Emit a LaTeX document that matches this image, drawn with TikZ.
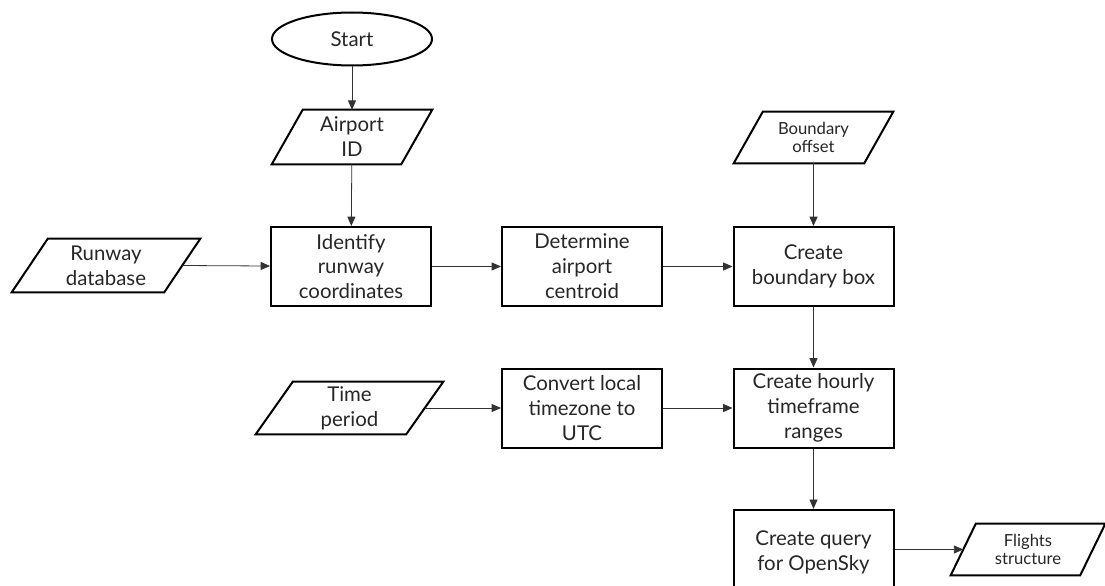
\documentclass[tikz,border=0pt]{standalone}
\usepackage{fontspec}
\setmainfont{Lato}
\usetikzlibrary{shapes.geometric,arrows.meta}
\definecolor{txt}{HTML}{262626}
\newcommand\iopath[2]{%
  \draw[boxline] ([xshift=-#2]#1.south west) -- ([xshift=-#2]#1.south east) --
    ([xshift=#2]#1.north east) -- ([xshift=#2]#1.north west) -- cycle;}
\tikzset{
  boxline/.style={line width=1.5pt, line join=miter},
  big/.style={font=\fontsize{15.3}{18.7}\selectfont, text=txt, align=center},
  small/.style={font=\fontsize{12.5}{14}\selectfont, text=txt, align=center},
  proc/.style={big, draw, boxline, rectangle, minimum width=120pt, minimum height=59.25pt, inner sep=0pt},
  term/.style={big, draw, boxline, ellipse, minimum width=120pt, minimum height=39.75pt, inner sep=0pt},
  iotext/.style={rectangle, inner sep=0pt},
  flow/.style={line width=0.6pt, draw=black!80, -{Triangle[length=7pt,width=6pt]}},
}
\begin{document}
\begin{tikzpicture}[x=0.75pt, y=-0.75pt]
\useasboundingbox[fill=white] (0,0) rectangle (1105,585);
% terminal
\node[term] (start) at (352,39) {Start};
% inputs
\node[iotext, big, minimum width=96.75pt, minimum height=40.5pt] (airport) at (352,137) {Airport\\ID};
\iopath{airport}{11.6pt}
\node[iotext, big, minimum width=114pt, minimum height=39.75pt] (runway) at (106,265.5) {Runway\\database};
\iopath{runway}{13.5pt}
\node[iotext, small, minimum width=97.5pt, minimum height=38.25pt] (offset) at (813.5,137.5) {Boundary\\offset};
\iopath{offset}{10.9pt}
\node[iotext, big, minimum width=112.5pt, minimum height=39pt] (time) at (349.5,408) {Time\\period};
\iopath{time}{13.9pt}
\node[iotext, small, minimum width=96.75pt, minimum height=38.25pt] (flights) at (1028,549.5) {Flights\\structure};
\iopath{flights}{9.4pt}
% processes
\node[proc] (identify) at (351,266.5) {Identify\\runway\\coordinates};
\node[proc] (centroid) at (582,266.5) {Determine\\airport\\centroid};
\node[proc] (bbox) at (813.5,266.5) {Create\\boundary box};
\node[proc] (convert) at (582,408) {Convert local\\timezone to\\UTC};
\node[proc] (hourly) at (813.5,408) {Create hourly\\timeframe\\ranges};
\node[proc, minimum height=64pt] (query) at (813.5,552.5) {Create query\\for OpenSky};
% connectors
\draw[flow] (start) -- (airport);
\draw[flow] (airport) -- (identify);
\draw[flow] (runway.east) -- (identify);
\draw[flow] (identify) -- (centroid);
\draw[flow] (centroid) -- (bbox);
\draw[flow] (offset) -- (bbox);
\draw[flow] (bbox) -- (hourly);
\draw[flow] (time.east) -- (convert);
\draw[flow] (convert) -- (hourly);
\draw[flow] (hourly) -- (query);
\draw[flow] (query.east |- flights.west) -- (flights.west);
\end{tikzpicture}
\end{document}
